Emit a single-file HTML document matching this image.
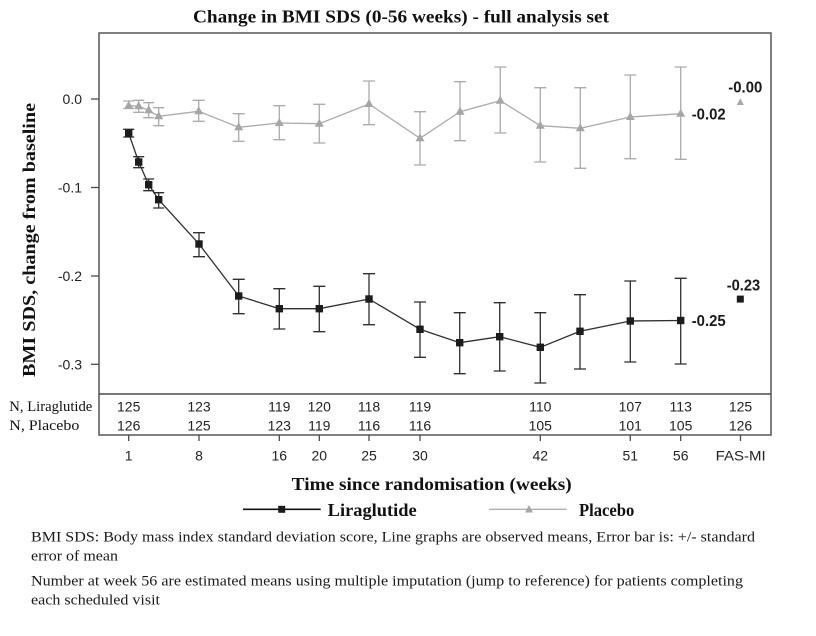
<!DOCTYPE html>
<html>
<head>
<meta charset="utf-8">
<style>
  html, body { margin: 0; padding: 0; background: #ffffff; }
  svg { display: block; }
  .serif { font-family: "Liberation Serif", "Times New Roman", serif; }
  .sans { font-family: "Liberation Sans", Arial, sans-serif; }
</style>
</head>
<body>
<svg width="816" height="636" viewBox="0 0 816 636" xmlns="http://www.w3.org/2000/svg">
  <rect x="0" y="0" width="816" height="636" fill="#ffffff"/>

  <!-- Title -->
  <text class="serif" x="401" y="22.5" font-size="18" font-weight="bold" text-anchor="middle" textLength="416" lengthAdjust="spacingAndGlyphs" fill="#111">Change in BMI SDS (0-56 weeks) - full analysis set</text>

  <!-- Frame -->
  <rect x="99" y="33" width="672" height="402" fill="none" stroke="#4a4a4a" stroke-width="1.4"/>
  <line x1="99" y1="394" x2="771" y2="394" stroke="#4a4a4a" stroke-width="1.4"/>

  <!-- Y ticks -->
  <g stroke="#4a4a4a" stroke-width="1.3">
    <line x1="91" y1="99" x2="99" y2="99"/>
    <line x1="91" y1="187.5" x2="99" y2="187.5"/>
    <line x1="91" y1="276" x2="99" y2="276"/>
    <line x1="91" y1="364.3" x2="99" y2="364.3"/>
  </g>
  <g class="sans" font-size="14" fill="#222" text-anchor="end">
    <text x="82" y="104">0.0</text>
    <text x="82" y="192.5">-0.1</text>
    <text x="82" y="281">-0.2</text>
    <text x="82" y="369.3">-0.3</text>
  </g>

  <!-- Y axis label -->
  <text class="serif" transform="translate(35,240) rotate(-90)" x="0" y="0" font-size="18" font-weight="bold" text-anchor="middle" textLength="274" lengthAdjust="spacingAndGlyphs" fill="#111">BMI SDS, change from baseline</text>

  <!-- X ticks -->
  <g stroke="#4a4a4a" stroke-width="1.3">
    <line x1="128.7" y1="435" x2="128.7" y2="441"/>
    <line x1="199" y1="435" x2="199" y2="441"/>
    <line x1="279.3" y1="435" x2="279.3" y2="441"/>
    <line x1="319.3" y1="435" x2="319.3" y2="441"/>
    <line x1="369" y1="435" x2="369" y2="441"/>
    <line x1="420" y1="435" x2="420" y2="441"/>
    <line x1="540.3" y1="435" x2="540.3" y2="441"/>
    <line x1="630.3" y1="435" x2="630.3" y2="441"/>
    <line x1="680.7" y1="435" x2="680.7" y2="441"/>
    <line x1="740.5" y1="435" x2="740.5" y2="441"/>
  </g>
  <g class="sans" font-size="14" fill="#222" text-anchor="middle">
    <text x="128.7" y="460.5">1</text>
    <text x="199" y="460.5">8</text>
    <text x="279.3" y="460.5">16</text>
    <text x="319.3" y="460.5">20</text>
    <text x="369" y="460.5">25</text>
    <text x="420" y="460.5">30</text>
    <text x="540.3" y="460.5">42</text>
    <text x="630.3" y="460.5">51</text>
    <text x="680.7" y="460.5">56</text>
    <text x="740.7" y="460.5" textLength="50" lengthAdjust="spacingAndGlyphs">FAS-MI</text>
  </g>

  <!-- N table -->
  <text class="serif" x="9.3" y="411" font-size="14.5" fill="#111" textLength="83" lengthAdjust="spacingAndGlyphs">N, Liraglutide</text>
  <text class="serif" x="9.3" y="430" font-size="14.5" fill="#111" textLength="70" lengthAdjust="spacingAndGlyphs">N, Placebo</text>
  <g class="sans" font-size="14" fill="#222" text-anchor="middle">
    <text x="128.7" y="411.5">125</text>
    <text x="199" y="411.5">123</text>
    <text x="279.3" y="411.5">119</text>
    <text x="319.3" y="411.5">120</text>
    <text x="369" y="411.5">118</text>
    <text x="420" y="411.5">119</text>
    <text x="540.3" y="411.5">110</text>
    <text x="630.3" y="411.5">107</text>
    <text x="680.7" y="411.5">113</text>
    <text x="740.5" y="411.5">125</text>

    <text x="128.7" y="430.5">126</text>
    <text x="199" y="430.5">125</text>
    <text x="279.3" y="430.5">123</text>
    <text x="319.3" y="430.5">119</text>
    <text x="369" y="430.5">116</text>
    <text x="420" y="430.5">116</text>
    <text x="540.3" y="430.5">105</text>
    <text x="630.3" y="430.5">101</text>
    <text x="680.7" y="430.5">105</text>
    <text x="740.5" y="430.5">126</text>
  </g>

  <!-- Placebo series -->
  <g stroke="#ababab" stroke-width="1.3" fill="none">
    <polyline points="128.7,105.7 138.7,106.3 148.7,110.3 158.7,116.3 198.7,111.3 238.7,127.3 279.3,123 319.3,123.7 369,104 420,138.3 460,111.7 500.3,100.7 540.3,125.7 580.3,128.3 630.3,117 680.7,113.7"/>
    <!-- error bars -->
    <path d="M128.7 101 V108.5 M123.2 101 H134.2 M123.2 108.5 H134.2"/>
    <path d="M138.7 100.3 V112.3 M133.2 100.3 H144.2 M133.2 112.3 H144.2"/>
    <path d="M148.7 102.7 V117.7 M143.2 102.7 H154.2 M143.2 117.7 H154.2"/>
    <path d="M158.7 107.7 V125.7 M153.2 107.7 H164.2 M153.2 125.7 H164.2"/>
    <path d="M198.7 100.3 V121.3 M192.7 100.3 H204.7 M192.7 121.3 H204.7"/>
    <path d="M238.7 113.7 V141.3 M232.7 113.7 H244.7 M232.7 141.3 H244.7"/>
    <path d="M279.3 105.7 V139.7 M273.3 105.7 H285.3 M273.3 139.7 H285.3"/>
    <path d="M319.3 104.3 V143 M313.3 104.3 H325.3 M313.3 143 H325.3"/>
    <path d="M369 81 V124.7 M363 81 H375 M363 124.7 H375"/>
    <path d="M420 111.7 V165 M414 111.7 H426 M414 165 H426"/>
    <path d="M460 81.7 V140.7 M454 81.7 H466 M454 140.7 H466"/>
    <path d="M500.3 67 V133 M494.3 67 H506.3 M494.3 133 H506.3"/>
    <path d="M540.3 87.7 V162 M534.3 87.7 H546.3 M534.3 162 H546.3"/>
    <path d="M580.3 87.7 V168.3 M574.3 87.7 H586.3 M574.3 168.3 H586.3"/>
    <path d="M630.3 75 V158.7 M624.3 75 H636.3 M624.3 158.7 H636.3"/>
    <path d="M680.7 67 V159.3 M674.7 67 H686.7 M674.7 159.3 H686.7"/>
  </g>
  <g fill="#a6a6a6">
    <polygon points="128.7,100.7 124.2,108.7 133.2,108.7"/>
    <polygon points="138.7,101.3 134.2,109.3 143.2,109.3"/>
    <polygon points="148.7,105.3 144.2,113.3 153.2,113.3"/>
    <polygon points="158.7,111.3 154.2,119.3 163.2,119.3"/>
    <polygon points="198.7,106.3 194.2,114.3 203.2,114.3"/>
    <polygon points="238.7,122.3 234.2,130.3 243.2,130.3"/>
    <polygon points="279.3,118 274.8,126 283.8,126"/>
    <polygon points="319.3,118.7 314.8,126.7 323.8,126.7"/>
    <polygon points="369,99 364.5,107 373.5,107"/>
    <polygon points="420,133.3 415.5,141.3 424.5,141.3"/>
    <polygon points="460,106.7 455.5,114.7 464.5,114.7"/>
    <polygon points="500.3,95.7 495.8,103.7 504.8,103.7"/>
    <polygon points="540.3,120.7 535.8,128.7 544.8,128.7"/>
    <polygon points="580.3,123.3 575.8,131.3 584.8,131.3"/>
    <polygon points="630.3,112 625.8,120 634.8,120"/>
    <polygon points="680.7,108.7 676.2,116.7 685.2,116.7"/>
    <polygon points="740.3,98.3 736.8,105 743.8,105"/>
  </g>

  <!-- Liraglutide series -->
  <g stroke="#2e2e2e" stroke-width="1.3" fill="none">
    <polyline points="128.7,133.3 138.7,162 148.7,184.7 158.7,199.7 199,244 238.7,296 279.3,308.7 319.3,308.7 369,299 420,329.3 459.7,342.7 499.7,336.7 540.3,347.3 580,331.3 630.3,321 680.7,320.5"/>
    <path d="M128.7 129.3 V137 M123.2 129.3 H134.2 M123.2 137 H134.2"/>
    <path d="M138.7 156.7 V167.7 M133.2 156.7 H144.2 M133.2 167.7 H144.2"/>
    <path d="M148.7 179 V190.7 M143.2 179 H154.2 M143.2 190.7 H154.2"/>
    <path d="M158.7 192.7 V208 M153.2 192.7 H164.2 M153.2 208 H164.2"/>
    <path d="M199 232.7 V256.7 M193 232.7 H205 M193 256.7 H205"/>
    <path d="M238.7 279.3 V313.7 M232.7 279.3 H244.7 M232.7 313.7 H244.7"/>
    <path d="M279.3 288.7 V329 M273.3 288.7 H285.3 M273.3 329 H285.3"/>
    <path d="M319.3 286.3 V331.7 M313.3 286.3 H325.3 M313.3 331.7 H325.3"/>
    <path d="M369 273.7 V324.7 M363 273.7 H375 M363 324.7 H375"/>
    <path d="M420 302 V357.3 M414 302 H426 M414 357.3 H426"/>
    <path d="M459.7 312.7 V373.7 M453.7 312.7 H465.7 M453.7 373.7 H465.7"/>
    <path d="M499.7 302.7 V371 M493.7 302.7 H505.7 M493.7 371 H505.7"/>
    <path d="M540.3 312.7 V383 M534.3 312.7 H546.3 M534.3 383 H546.3"/>
    <path d="M580 294.7 V369 M574 294.7 H586 M574 369 H586"/>
    <path d="M630.3 281 V362 M624.3 281 H636.3 M624.3 362 H636.3"/>
    <path d="M680.7 278.3 V364 M674.7 278.3 H686.7 M674.7 364 H686.7"/>
  </g>
  <g fill="#1c1c1c">
    <rect x="125" y="129.6" width="7.4" height="7.4"/>
    <rect x="135" y="158.3" width="7.4" height="7.4"/>
    <rect x="145" y="181" width="7.4" height="7.4"/>
    <rect x="155" y="196" width="7.4" height="7.4"/>
    <rect x="195.3" y="240.3" width="7.4" height="7.4"/>
    <rect x="235" y="292.3" width="7.4" height="7.4"/>
    <rect x="275.6" y="305" width="7.4" height="7.4"/>
    <rect x="315.6" y="305" width="7.4" height="7.4"/>
    <rect x="365.3" y="295.3" width="7.4" height="7.4"/>
    <rect x="416.3" y="325.6" width="7.4" height="7.4"/>
    <rect x="456" y="339" width="7.4" height="7.4"/>
    <rect x="496" y="333" width="7.4" height="7.4"/>
    <rect x="536.6" y="343.6" width="7.4" height="7.4"/>
    <rect x="576.3" y="327.6" width="7.4" height="7.4"/>
    <rect x="626.6" y="317.3" width="7.4" height="7.4"/>
    <rect x="677" y="316.8" width="7.4" height="7.4"/>
    <rect x="736.8" y="295.6" width="7" height="7"/>
  </g>

  <!-- Value labels -->
  <g class="sans" font-size="16" font-weight="bold" fill="#1a1a1a">
    <text x="728.3" y="92.3" textLength="34" lengthAdjust="spacingAndGlyphs">-0.00</text>
    <text x="691.7" y="119.3" textLength="34" lengthAdjust="spacingAndGlyphs">-0.02</text>
    <text x="726.7" y="290.5" textLength="33.5" lengthAdjust="spacingAndGlyphs">-0.23</text>
    <text x="691.7" y="325.8" textLength="34" lengthAdjust="spacingAndGlyphs">-0.25</text>
  </g>

  <!-- X axis title -->
  <text class="serif" x="291.7" y="490" font-size="18" font-weight="bold" fill="#111" textLength="280" lengthAdjust="spacingAndGlyphs">Time since randomisation (weeks)</text>

  <!-- Legend -->
  <line x1="243" y1="509.3" x2="320.7" y2="509.3" stroke="#111" stroke-width="1.6"/>
  <rect x="278.2" y="505.8" width="7" height="7" fill="#1c1c1c"/>
  <text class="serif" x="327.7" y="516" font-size="18" font-weight="bold" fill="#111" textLength="89" lengthAdjust="spacingAndGlyphs">Liraglutide</text>

  <line x1="489" y1="509.3" x2="566.7" y2="509.3" stroke="#b0b0b0" stroke-width="1.4"/>
  <polygon points="529,505 525,512.5 533,512.5" fill="#a6a6a6"/>
  <text class="serif" x="579" y="516" font-size="18" font-weight="bold" fill="#111" textLength="55.3" lengthAdjust="spacingAndGlyphs">Placebo</text>

  <!-- Footnotes -->
  <g class="serif" font-size="14.5" fill="#1a1a1a">
    <text x="31" y="541.7" textLength="724" lengthAdjust="spacingAndGlyphs">BMI SDS: Body mass index standard deviation score, Line graphs are observed means, Error bar is: +/- standard</text>
    <text x="31" y="560.7" textLength="87" lengthAdjust="spacingAndGlyphs">error of mean</text>
    <text x="31" y="585.7" textLength="712" lengthAdjust="spacingAndGlyphs">Number at week 56 are estimated means using multiple imputation (jump to reference) for patients completing</text>
    <text x="31" y="604.5" textLength="129" lengthAdjust="spacingAndGlyphs">each scheduled visit</text>
  </g>
</svg>
</body>
</html>
